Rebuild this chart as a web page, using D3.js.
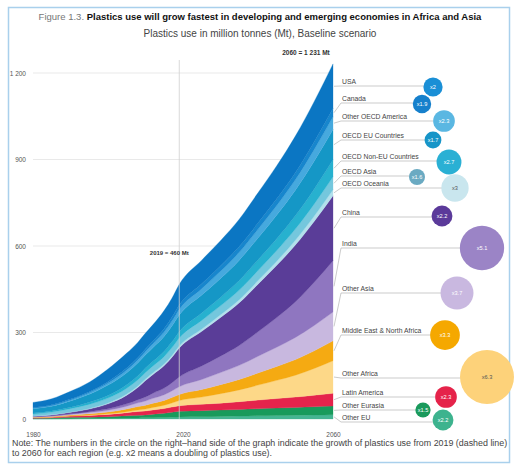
<!DOCTYPE html>
<html><head><meta charset="utf-8">
<script src="https://cdn.jsdelivr.net/npm/d3@7"></script>
<style>body{margin:0;background:#fff}svg{font-family:"Liberation Sans",Arial,sans-serif}</style>
</head><body><svg id="c" width="518" height="470"></svg>
<script>
// ---------- DATA ----------
const years = [1980,1985,1990,1995,2000,2005,2008,2010,2012,2015,2017,2019,2025,2030,2035,2040,2045,2050,2055,2060];
const usa          = [18,21,27,33,44,52,53,55,57,63,66,72,82,88,95,105,115,127,140,155];
const canada       = [2,2.5,3,4,5,6.5,7.8,8.5,9.5,11.5,13,15,17,18.5,20,21.5,23,24.5,26.5,28.5];
const otherOecdAm  = [2,2.5,3.5,5,7,9.5,11,12,13,15,17,19,22,24.5,27,30,33,36,40,44];
const oecdEu       = [15,17,22,28,36,42,45,46,48,52,55,58,62,66,71,76,82,89,97,105];
const oecdNonEu    = [3,3.5,5,7,9,12,13.5,15,16,18.5,20,22,26,29,33,37,41,46,52,59];
const oecdAsia     = [7,8.5,11,14,17,20,21.5,23,24,25.5,27,28,30,31,33,35,37,39,42,45];
const oecdOceania  = [1,1.2,1.7,2.2,3,4,4.7,5,5.4,6,6.5,7,8,9.5,11,12.5,14.5,16.5,18.5,21];
const china        = [1.5,3,5,9,17,30,43,57,65,78,88,100,120,134,148,165,181,197,211,225];
const india        = [0.5,0.8,1.5,3,5,8,11,14,18,23,28,34,47,57,69,85,103,124,150,178];
const otherAsia    = [1.5,2,3,4.5,6.5,10,13,15,17,20,23,27,35,42,49,58,67,77,88,100];
const mena         = [1,1.5,2.5,4,6,9,12,13,14.5,16.5,18.5,21,26,31,36,42,48,54,61,69];
const otherAfrica  = [0.5,0.7,1,1.5,2,3.5,5,6.5,8.5,11.5,14.5,18,25,33,41,52,63,76,93,113];
const latinAmerica = [2,2.5,4,6,8,11,13,14,15,16.5,18,19,22,24,27,30,33,36,40,44];
const otherEurasia = [2,3,5,5,6,8,9.5,10,12,14.5,17,20,21,22,23,24.5,26,27,28.5,30];
const otherEu      = [0.5,0.7,1,1.5,2,3,3.6,4,4.6,5.3,6.2,7,8,9,10,11,12,13,14,15];

// regions, top to bottom (as listed at the right)
const regionNames = ["USA","Canada","Other OECD America","OECD EU Countries","OECD Non-EU Countries","OECD Asia","OECD Oceania","China","India","Other Asia","Middle East & North Africa","Other Africa","Latin America","Other Eurasia","Other EU"];
const regionSeries = [usa,canada,otherOecdAm,oecdEu,oecdNonEu,oecdAsia,oecdOceania,china,india,otherAsia,mena,otherAfrica,latinAmerica,otherEurasia,otherEu];
const multipliers = [2,1.9,2.3,1.7,2.7,1.6,3,2.2,5.1,3.7,3.3,6.3,2.3,1.5,2.2];
const multiplierLabels = ["x2","x1.9","x2.3","x1.7","x2.7","x1.6","x3","x2.2","x5.1","x3.7","x3.3","x6.3","x2.3","x1.5","x2.2"];
const yTicks = [0,300,600,900,1200];
const yTickLabels = ["0","300","600","900","1 200"];
const xTicks = [1980,2020,2060];
const markerYear = 2019;
const markerLabel = "2019 = 460 Mt";
const totalLabel = "2060 = 1 231 Mt";

// ---------- STYLE / LAYOUT ----------
const colors = ["#0b76c3","#1786cd","#46a9de","#1597c6","#27b1cf","#74c7dd","#b3e0ec","#5a3d98","#8f76c0","#c8b8df","#f5aa12","#fdd888","#e5244c","#189a5b","#44b592"];
const bubbleColors = ["#1a8fd6","#1680cc","#5ab7e2","#1795c8","#2ab0d4","#6aaac2","#c9e6ee","#5b3a9a","#9b84c6","#c9b8e0","#f5a800","#fdd27a","#e5234a","#1a9a5c","#3db38e"];
const lightText = [false,false,false,false,false,false,true,false,false,false,false,true,false,false,false];
const lineYs   = [86,103,121,140,161,176,188,217,248,293,335,378,397,410,422];
const bubbleXs = [433,422,444,433,449,417,455,442,482,457,445,487,446,423,443];
const bubbleYs = [87,104,121,140,162,177,188,216,248,293,335,377,397,410,420];

const svg = d3.select("#c");
const x = d3.scaleLinear().domain([1980,2060]).range([33,333]);
const y = d3.scaleLinear().domain([0,1200]).range([419,73]);
const r = d3.scaleLinear().domain([1.5,6.3]).range([7.6,27]);

// frame
svg.append("rect").attr("x",8.5).attr("y",7.5).attr("width",501).attr("height",455)
  .attr("fill","none").attr("stroke","#a9d0ec").attr("stroke-width",1.5);

// titles
const t = svg.append("text").attr("x",260).attr("y",20).attr("text-anchor","middle").attr("font-size",9.5);
t.append("tspan").attr("fill","#777").text("Figure 1.3. ");
t.append("tspan").attr("fill","#111").attr("font-weight","bold").text("Plastics use will grow fastest in developing and emerging economies in Africa and Asia");
svg.append("text").attr("x",260).attr("y",37).attr("text-anchor","middle").attr("font-size",10).attr("fill","#444")
  .text("Plastics use in million tonnes (Mt), Baseline scenario");

// gridlines
svg.append("g").selectAll("line").data(yTicks.filter(d=>d>0)).join("line")
  .attr("x1",x(1980)).attr("x2",x(2060)).attr("y1",d=>y(d)).attr("y2",d=>y(d))
  .attr("stroke","#e3e3e3").attr("stroke-width",0.8);

// y axis
const ya = svg.append("g").attr("transform","translate(29,0)")
  .call(d3.axisLeft(y).tickValues(yTicks).tickSize(0).tickFormat((d,i)=>yTickLabels[i]));
ya.select(".domain").remove();
ya.selectAll("text").attr("font-size",6.5).attr("fill","#555").attr("font-family","Liberation Sans, Arial, sans-serif");

// x axis
const xa = svg.append("g").attr("transform","translate(0,429)")
  .call(d3.axisBottom(x).tickValues(xTicks).tickSize(0).tickFormat(d3.format("d")));
xa.select(".domain").remove();
xa.selectAll("text").attr("font-size",6.5).attr("fill","#555").attr("font-family","Liberation Sans, Arial, sans-serif");

// stack (bottom = last region)
const keys = regionNames.slice().reverse();
const table = years.map((yr,i)=>{const o={year:yr}; regionNames.forEach((n,k)=>o[n]=regionSeries[k][i]); return o;});
const stacked = d3.stack().keys(keys)(table);
const area = d3.area().x(d=>x(d.data.year)).y0(d=>y(d[0])).y1(d=>y(d[1])).curve(d3.curveMonotoneX);
svg.append("g").selectAll("path").data(stacked).join("path")
  .attr("d",area)
  .attr("fill",d=>colors[regionNames.indexOf(d.key)])
  .attr("stroke",d=>colors[regionNames.indexOf(d.key)]).attr("stroke-width",0.3);

// 2019 marker line
svg.append("line").attr("x1",x(markerYear)).attr("x2",x(markerYear)).attr("y1",60).attr("y2",419)
  .attr("stroke","#cfcfcf").attr("stroke-width",0.8);
svg.append("text").attr("x",x(markerYear)-10).attr("y",255).attr("text-anchor","middle")
  .attr("font-size",6).attr("font-weight","bold").attr("fill","#333").text(markerLabel);
svg.append("text").attr("x",306).attr("y",55).attr("text-anchor","middle")
  .attr("font-size",6.5).attr("font-weight","bold").attr("fill","#333").text(totalLabel);

// right-hand labels, connectors and bubbles
const last = years.length-1;
const lab = svg.append("g");
regionNames.forEach((name,i)=>{
  const s = stacked.find(d=>d.key===name)[last];
  const mid = (y(s[0])+y(s[1]))/2;
  const ly = lineYs[i];
  lab.append("path").attr("d",`M${x(2060)+1},${mid}L341,${ly}L${bubbleXs[i]},${ly}`)
    .attr("fill","none").attr("stroke","#b5b5b5").attr("stroke-width",0.7);
  lab.append("text").attr("x",342).attr("y",ly-2).attr("font-size",6.8).attr("fill","#444").text(name);
});
regionNames.forEach((name,i)=>{
  lab.append("circle").attr("cx",bubbleXs[i]).attr("cy",bubbleYs[i]).attr("r",r(multipliers[i]))
    .attr("fill",bubbleColors[i]);
  lab.append("text").attr("x",bubbleXs[i]).attr("y",bubbleYs[i]+2).attr("text-anchor","middle")
    .attr("font-size",5.6).attr("fill",lightText[i]?"#555":"#fff").text(multiplierLabels[i]);
});

// note
const note = svg.append("text").attr("font-size",8.9).attr("fill","#444");
note.append("tspan").attr("x",12).attr("y",446).text("Note: The numbers in the circle on the right\u2013hand side of the graph indicate the growth of plastics use from 2019 (dashed line)");
note.append("tspan").attr("x",12).attr("y",456).text("to 2060 for each region (e.g. x2 means a doubling of plastics use).");
</script></body></html>
